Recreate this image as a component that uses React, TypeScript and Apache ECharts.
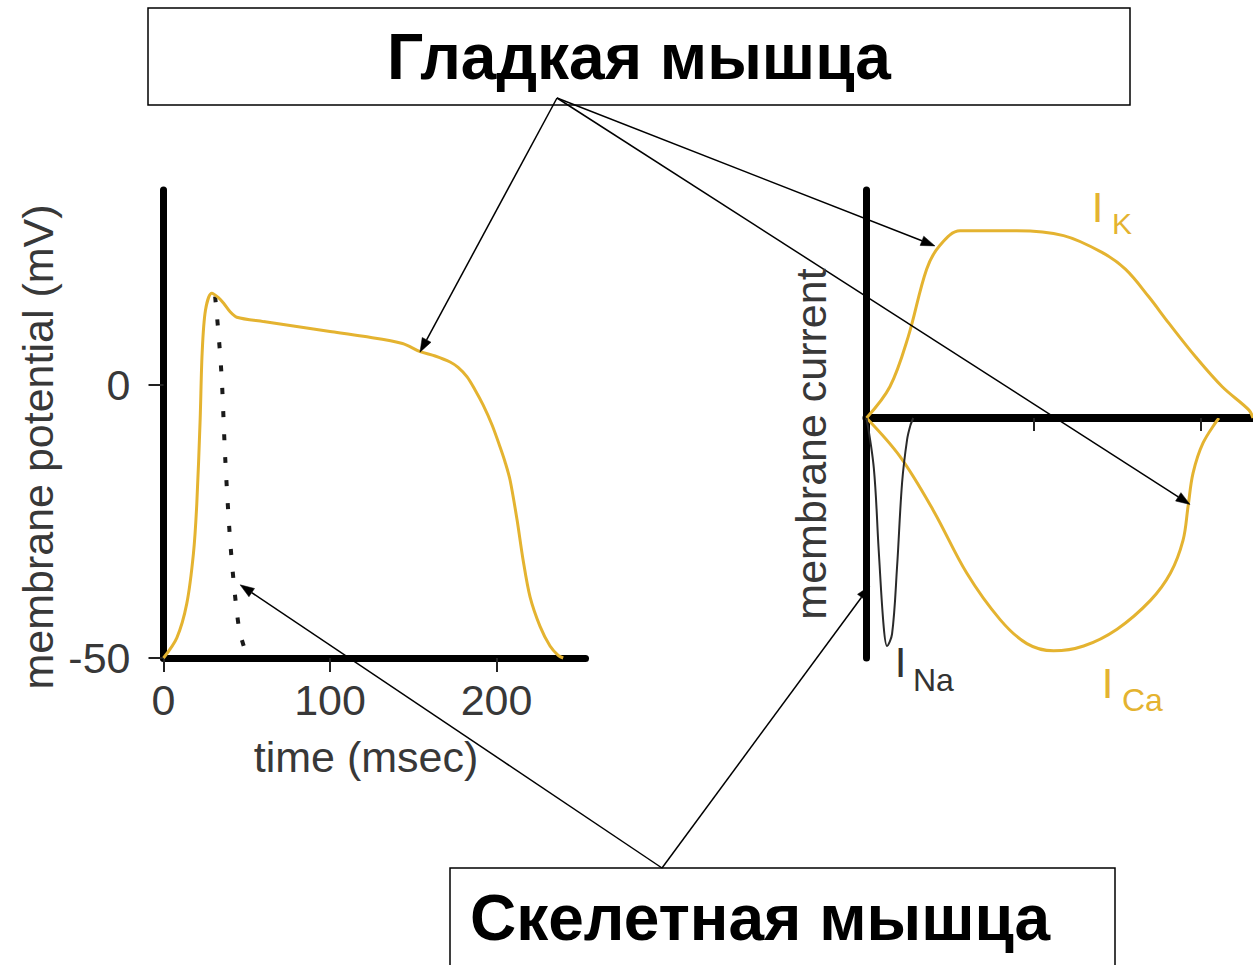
import React, { useEffect, useRef } from 'react';
import * as echarts from 'echarts';

// ---- Data ----
// Left panel: smooth-muscle action potential (time ms, membrane potential mV)
const apTime = [0, 8, 14, 18, 20, 22, 23.2, 25.2, 29, 33, 36, 40, 44, 60, 80, 100, 120, 143.5, 154.1, 163.1, 172.1, 176.9, 182.3, 187.1, 191.9, 197.3, 202.1, 205.1, 208.1, 212.3, 215.9, 220.1, 226.1, 232.1, 237, 240];
const apVoltage = [-50, -46.3, -40, -30.8, -21.7, -6.4, 5.8, 13.7, 16.8, 16.0, 15.0, 13.4, 12.4, 11.6, 10.7, 9.8, 8.9, 7.6, 6.1, 5.3, 4.2, 3.2, 1.47, -0.92, -3.66, -7.33, -11.36, -14.1, -17.4, -24.7, -32.0, -38.8, -44.2, -47.8, -49.5, -50];
// Skeletal muscle action potential repolarisation (dotted)
const skTime = [31, 33, 35, 37, 39.3, 41.3, 43.9, 46, 50];
const skVoltage = [16.2, 9.5, 1, -13, -25.3, -33.3, -41.2, -45.5, -49.5];

// Right panel: membrane currents (time ms, arbitrary units)
const ikTime = [0, 14, 25, 36, 44, 56, 90, 118, 141, 155, 169, 181, 197, 213, 229, 231.4];
const ikCurrent = [0, 1.3, 3.39, 6.2, 7.2, 7.8, 7.8, 7.6, 6.9, 6.2, 5.05, 3.95, 2.55, 1.3, 0.33, 0];
const icaTime = [0, 20, 40, 60, 80, 96, 112, 130, 150, 170, 182, 189.5, 192.5, 195.5, 201.5, 211];
const icaCurrent = [0, -1.6, -3.85, -6.46, -8.4, -9.4, -9.7, -9.5, -8.8, -7.6, -6.46, -5.1, -3.7, -2.3, -1.04, 0];
const inaTime = [0, 4.4, 7.3, 10.3, 12.3, 15.3, 18.3, 21.3, 24.3, 26.3, 28];
const inaCurrent = [0, -2.1, -5.5, -8.7, -9.5, -9.0, -6.2, -2.7, -0.9, -0.3, 0];

// Tick labels
const timeTicks = [0, 100, 200];
const potentialTicks = [-50, 0];
const currentTimeTicks = [100, 200];

const YELLOW = '#E4B330';
const TEXT = '#383838';
const FONT = "'Liberation Sans', Arial, sans-serif";

const pairs = (xs: number[], ys: number[]) => xs.map((x, i) => [x, ys[i]]);

function arrow(sx: number, sy: number, tx: number, ty: number) {
  const dx = tx - sx;
  const dy = ty - sy;
  const len = Math.hypot(dx, dy);
  const ux = dx / len;
  const uy = dy / len;
  const head = 14;
  const half = 5;
  const bx = tx - ux * head;
  const by = ty - uy * head;
  const nx = -uy;
  const ny = ux;
  return [
    {
      type: 'line',
      z: 100,
      shape: { x1: sx, y1: sy, x2: bx, y2: by },
      style: { stroke: '#000', lineWidth: 1.5 },
      silent: true,
    },
    {
      type: 'polygon',
      z: 100,
      shape: { points: [[tx, ty], [bx + nx * half, by + ny * half], [bx - nx * half, by - ny * half]] },
      style: { fill: '#000', stroke: '#000', lineWidth: 0.5 },
      silent: true,
    },
  ];
}

function label(text: string, x: number, y: number, size: number, color: string, align = 'center', rotation = 0, weight = 'normal') {
  return {
    type: 'text',
    z: 110,
    x,
    y,
    rotation,
    silent: true,
    style: {
      text,
      fill: color,
      font: `${weight} ${size}px ${FONT}`,
      align,
      verticalAlign: 'middle',
      textAlign: align,
      textVerticalAlign: 'middle',
    },
  };
}

export default function App() {
  const ref = useRef<HTMLDivElement>(null);

  useEffect(() => {
    if (!ref.current) return;
    const chart = echarts.init(ref.current, null, { renderer: 'svg' });

    const axisTextStyle = { fontSize: 43, color: TEXT, fontFamily: FONT };

    chart.setOption({
      animation: false,
      backgroundColor: '#ffffff',
      textStyle: { fontFamily: FONT },
      grid: [
        { left: 163.5, top: 190, width: 422, height: 468 },
        { left: 866.5, top: 190, width: 386.5, height: 468 },
      ],
      xAxis: [
        {
          type: 'value',
          gridIndex: 0,
          min: 0,
          max: 253.4,
          splitLine: { show: false },
          axisLine: { show: true, onZero: false, lineStyle: { color: '#000', width: 7 } },
          axisTick: { show: true, length: 14, customValues: timeTicks, lineStyle: { color: '#222', width: 2 } },
          axisLabel: { ...axisTextStyle, customValues: timeTicks, margin: 20 },
        },
        {
          type: 'value',
          gridIndex: 1,
          min: 0,
          max: 231.4,
          splitLine: { show: false },
          axisLine: { show: true, onZero: true, lineStyle: { color: '#000', width: 8 } },
          axisTick: { show: true, length: 13, customValues: currentTimeTicks, lineStyle: { color: '#222', width: 2 } },
          axisLabel: { show: false },
        },
      ],
      yAxis: [
        {
          type: 'value',
          gridIndex: 0,
          min: -50,
          max: 35.7,
          splitLine: { show: false },
          axisLine: { show: true, onZero: false, lineStyle: { color: '#000', width: 7 } },
          axisTick: { show: true, length: 15, customValues: potentialTicks, lineStyle: { color: '#222', width: 2 } },
          axisLabel: { ...axisTextStyle, customValues: potentialTicks, margin: 33 },
        },
        {
          type: 'value',
          gridIndex: 1,
          min: -10,
          max: 9.5,
          splitLine: { show: false },
          axisLine: { show: true, onZero: false, lineStyle: { color: '#000', width: 7 } },
          axisTick: { show: false },
          axisLabel: { show: false },
        },
      ],
      series: [
        {
          name: 'action potential',
          type: 'line',
          xAxisIndex: 0,
          yAxisIndex: 0,
          data: pairs(apTime, apVoltage),
          smooth: 0.3,
          symbol: 'none',
          clip: false,
          lineStyle: { color: YELLOW, width: 3 },
          z: 3,
        },
        {
          name: 'skeletal',
          type: 'line',
          xAxisIndex: 0,
          yAxisIndex: 0,
          data: pairs(skTime, skVoltage),
          smooth: 0.3,
          symbol: 'none',
          lineStyle: { color: '#1a1a1a', width: 4, type: [6, 17] },
          z: 2,
        },
        {
          name: 'I_K',
          type: 'line',
          xAxisIndex: 1,
          yAxisIndex: 1,
          data: pairs(ikTime, ikCurrent),
          smooth: 0.35,
          symbol: 'none',
          clip: false,
          lineStyle: { color: YELLOW, width: 3 },
          z: 3,
        },
        {
          name: 'I_Ca',
          type: 'line',
          xAxisIndex: 1,
          yAxisIndex: 1,
          data: pairs(icaTime, icaCurrent),
          smooth: 0.35,
          symbol: 'none',
          clip: false,
          lineStyle: { color: YELLOW, width: 3 },
          z: 3,
        },
        {
          name: 'I_Na',
          type: 'line',
          xAxisIndex: 1,
          yAxisIndex: 1,
          data: pairs(inaTime, inaCurrent),
          smooth: 0.35,
          symbol: 'none',
          clip: false,
          lineStyle: { color: '#2a2a2a', width: 2 },
          z: 3,
        },
      ],
    });

    const p0 = (v: number[]) => chart.convertToPixel({ gridIndex: 0 }, v) as number[];
    const p1 = (v: number[]) => chart.convertToPixel({ gridIndex: 1 }, v) as number[];

    const topAnchor = [557, 98];
    const bottomAnchor = [662, 868];
    const tSmooth = p0([154, 6.0]);
    const tIk = p1([41, 7.17]);
    const tIca = p1([193.7, -3.6]);
    const tSkel = p0([46, -36.6]);
    const tIna = p1([2, -7.0]);

    const elements: any[] = [
      {
        type: 'rect',
        z: 90,
        shape: { x: 148, y: 8, width: 982, height: 97 },
        style: { fill: '#fff', stroke: '#000', lineWidth: 1.5 },
        silent: true,
      },
      label('Гладкая мышца', 639, 57, 64, '#000', 'center', 0, 'bold'),
      {
        type: 'rect',
        z: 90,
        shape: { x: 450, y: 868, width: 665, height: 130 },
        style: { fill: '#fff', stroke: '#000', lineWidth: 1.5 },
        silent: true,
      },
      label('Скелетная мышца', 470, 918, 64, '#000', 'left', 0, 'bold'),
      ...arrow(topAnchor[0], topAnchor[1], tSmooth[0], tSmooth[1]),
      ...arrow(topAnchor[0], topAnchor[1], tIk[0], tIk[1]),
      ...arrow(topAnchor[0], topAnchor[1], tIca[0], tIca[1]),
      ...arrow(bottomAnchor[0], bottomAnchor[1], tSkel[0], tSkel[1]),
      ...arrow(bottomAnchor[0], bottomAnchor[1], tIna[0], tIna[1]),
      label('membrane potential (mV)', 38, 447, 43, TEXT, 'center', Math.PI / 2),
      label('time (msec)', 366, 757, 43, TEXT, 'center'),
      label('membrane current', 811, 444, 43, TEXT, 'center', Math.PI / 2),
      label('I', 1097.5, 207, 42, YELLOW, 'center'),
      label('K', 1112, 223, 30, YELLOW, 'left'),
      label('I', 900.5, 662, 42, '#333', 'center'),
      label('Na', 913, 680, 32, '#333', 'left'),
      label('I', 1107.5, 683, 42, YELLOW, 'center'),
      label('Ca', 1122, 700, 32, YELLOW, 'left'),
    ];

    chart.setOption({ graphic: { elements } });

    return () => chart.dispose();
  }, []);

  return (
    <div
      ref={ref}
      style={{ position: 'fixed', left: 0, top: 0, width: 1253, height: 965, background: '#fff' }}
    />
  );
}
